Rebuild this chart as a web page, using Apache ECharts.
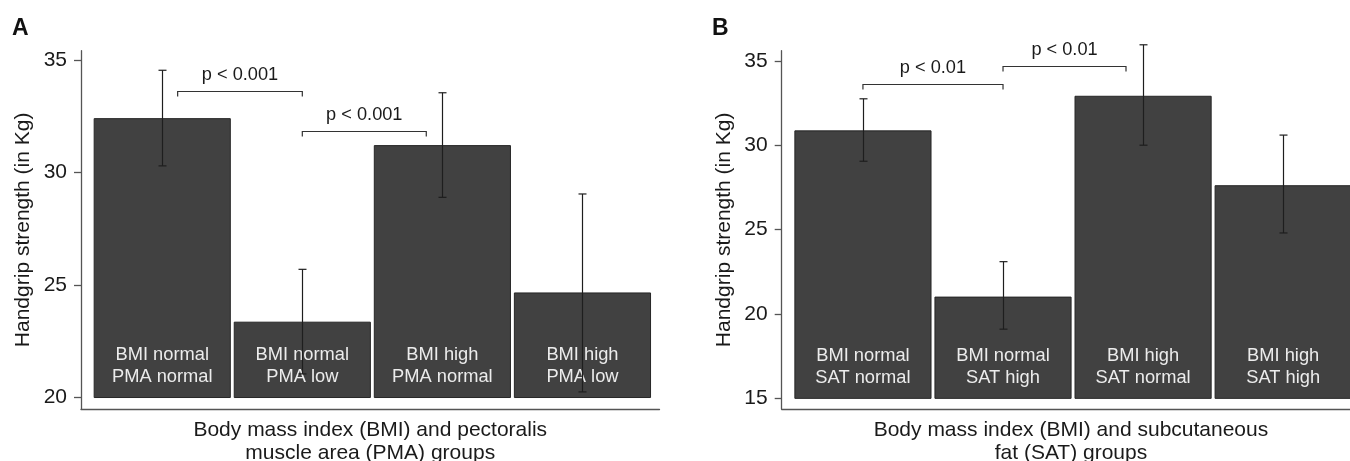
<!DOCTYPE html>
<html><head><meta charset="utf-8">
<script src="https://cdn.jsdelivr.net/npm/echarts@6/dist/echarts.min.js"></script>
<style>html,body{margin:0;padding:0;background:#fff}#c{width:1350px;height:461px}</style>
</head><body><div id="c"></div>
<script>
// ---- data ----
const categoriesA = ['BMI normal\nPMA normal', 'BMI normal\nPMA low', 'BMI high\nPMA normal', 'BMI high\nPMA low'];
const meanA = [32.4, 23.35, 31.2, 24.65];
const lowA = [30.3, 21.05, 28.9, 20.25];
const highA = [34.55, 25.7, 33.55, 29.05];
const bracketsA = [[0.11, 1, 33.65], [1, 1.885, 31.85]];
const bracketLabelsA = ['p < 0.001', 'p < 0.001'];
const baseA = 20;
const ticksA = [20, 25, 30, 35];

const categoriesB = ['BMI normal\nSAT normal', 'BMI normal\nSAT high', 'BMI high\nSAT normal', 'BMI high\nSAT high'];
const meanB = [30.85, 21.0, 32.9, 27.6];
const lowB = [29.05, 19.1, 30.0, 24.8];
const highB = [32.75, 23.1, 35.95, 30.6];
const bracketsB = [[0, 1, 33.62], [1, 1.878, 34.69]];
const bracketLabelsB = ['p < 0.01', 'p < 0.01'];
const baseB = 15;
const ticksB = [15, 20, 25, 30, 35];

const yTitle = 'Handgrip strength (in Kg)';
const xTitleA = 'Body mass index (BMI) and pectoralis\nmuscle area (PMA) groups';
const xTitleB = 'Body mass index (BMI) and subcutaneous\nfat (SAT) groups';

// ---- style ----
const FONT = '"Liberation Sans", Arial, Helvetica, sans-serif';
const HALF = 0.486;
const AXIS_COLOR = '#555';
const TEXT_COLOR = '#1a1a1a';

function barRender(base, cats) {
  return function (params, api) {
    const x = api.value(0), v = api.value(1);
    const p0 = api.coord([x - HALF, v]);
    const p1 = api.coord([x + HALF, base]);
    return {
      type: 'group', children: [
        { type: 'rect', shape: { x: p0[0], y: p0[1], width: p1[0] - p0[0], height: p1[1] - p0[1] },
          style: { fill: '#414141', stroke: '#262626', lineWidth: 1 } },
        { type: 'text', x: (p0[0] + p1[0]) / 2, y: p1[1] - 9.5,
          style: { text: cats[params.dataIndex], fill: '#ececec', font: '18.3px ' + FONT,
                   align: 'center', verticalAlign: 'bottom', lineHeight: 22 } }
      ]
    };
  };
}
function errRender(params, api) {
  const x = api.value(0);
  const lo = api.coord([x, api.value(1)]);
  const hi = api.coord([x, api.value(2)]);
  const cx = Math.round(lo[0]) + 0.5;
  const st = { stroke: '#1e1e1e', lineWidth: 1.2 };
  return {
    type: 'group', children: [
      { type: 'line', shape: { x1: cx, y1: lo[1], x2: cx, y2: hi[1] }, style: st },
      { type: 'line', shape: { x1: cx - 4, y1: lo[1], x2: cx + 4, y2: lo[1] }, style: st },
      { type: 'line', shape: { x1: cx - 4, y1: hi[1], x2: cx + 4, y2: hi[1] }, style: st }
    ]
  };
}
function bracketRender(labels) {
  return function (params, api) {
    const a = api.coord([api.value(0), api.value(2)]);
    const b = api.coord([api.value(1), api.value(2)]);
    const y = Math.round(a[1]) + 0.5;
    return {
      type: 'group', children: [
        { type: 'polyline', shape: { points: [[a[0], y + 5], [a[0], y], [b[0], y], [b[0], y + 5]] },
          style: { stroke: '#333', lineWidth: 1.2, fill: null } },
        { type: 'text', x: (a[0] + b[0]) / 2, y: y - 7.5,
          style: { text: labels[params.dataIndex], fill: TEXT_COLOR, font: '18.2px ' + FONT,
                   align: 'center', verticalAlign: 'bottom' } }
      ]
    };
  };
}

function xAxisCfg(idx, name) {
  return {
    type: 'value', gridIndex: idx, min: -0.58, max: 3.55,
    axisLine: { show: true, onZero: false, lineStyle: { color: AXIS_COLOR, width: 1.3 } },
    axisTick: { show: false }, axisLabel: { show: false }, splitLine: { show: false },
    name: name, nameLocation: 'middle', nameGap: 10,
    nameTextStyle: { fontFamily: FONT, fontSize: 21, color: TEXT_COLOR, lineHeight: 23, verticalAlign: 'top' }
  };
}
function yAxisCfg(idx, min, max, ticks) {
  return {
    type: 'value', gridIndex: idx, min: min, max: max,
    axisLine: { show: true, onZero: false, lineStyle: { color: AXIS_COLOR, width: 1.3 } },
    axisTick: { show: true, length: 7, customValues: ticks, lineStyle: { color: AXIS_COLOR, width: 1.3 } },
    axisLabel: { customValues: ticks, margin: 14, fontFamily: FONT, fontSize: 21, color: TEXT_COLOR },
    splitLine: { show: false },
    name: yTitle, nameLocation: 'middle', nameGap: 47,
    nameTextStyle: { fontFamily: FONT, fontSize: 21, color: TEXT_COLOR }
  };
}

const chart = echarts.init(document.getElementById('c'));
chart.setOption({
  animation: false,
  backgroundColor: '#fff',
  grid: [
    { left: 81, top: 50.7, width: 578.5, height: 358.3, outerBoundsMode: 'none', containLabel: false },
    { left: 781.7, top: 50.7, width: 578.5, height: 358.3, outerBoundsMode: 'none', containLabel: false }
  ],
  xAxis: [xAxisCfg(0, xTitleA), xAxisCfg(1, xTitleB)],
  yAxis: [yAxisCfg(0, 19.49, 35.42, ticksA), yAxisCfg(1, 14.37, 35.6, ticksB)],
  graphic: [
    { type: 'text', left: 12, top: 17, style: { text: 'A', font: 'bold 23px ' + FONT, fill: '#111' } },
    { type: 'text', left: 712, top: 17, style: { text: 'B', font: 'bold 23px ' + FONT, fill: '#111' } }
  ],
  series: [
    { type: 'custom', xAxisIndex: 0, yAxisIndex: 0, renderItem: barRender(baseA, categoriesA),
      data: meanA.map((v, i) => [i, v]), silent: true },
    { type: 'custom', xAxisIndex: 0, yAxisIndex: 0, renderItem: errRender,
      data: meanA.map((v, i) => [i, lowA[i], highA[i]]), silent: true },
    { type: 'custom', xAxisIndex: 0, yAxisIndex: 0, renderItem: bracketRender(bracketLabelsA),
      data: bracketsA, silent: true },
    { type: 'custom', xAxisIndex: 1, yAxisIndex: 1, renderItem: barRender(baseB, categoriesB),
      data: meanB.map((v, i) => [i, v]), silent: true },
    { type: 'custom', xAxisIndex: 1, yAxisIndex: 1, renderItem: errRender,
      data: meanB.map((v, i) => [i, lowB[i], highB[i]]), silent: true },
    { type: 'custom', xAxisIndex: 1, yAxisIndex: 1, renderItem: bracketRender(bracketLabelsB),
      data: bracketsB, silent: true }
  ]
});
</script>
</body></html>
